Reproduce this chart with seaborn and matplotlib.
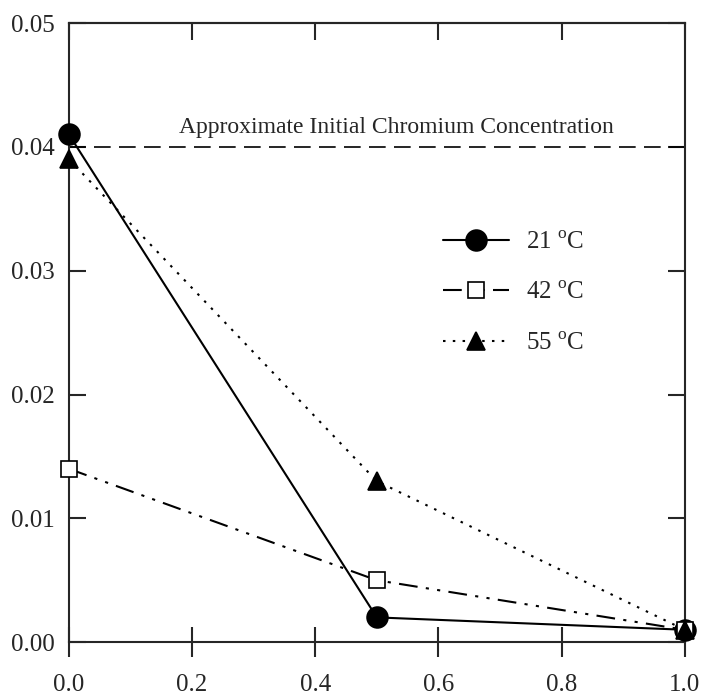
import matplotlib
matplotlib.use("Agg")
import matplotlib.pyplot as plt
import seaborn as sns
import pandas as pd

time = [0.0, 0.5, 1.0]
c21 = [0.041, 0.002, 0.001]
c42 = [0.014, 0.005, 0.001]
c55 = [0.039, 0.013, 0.001]
labels = ["21 $^{\\rm o}$C", "42 $^{\\rm o}$C", "55 $^{\\rm o}$C"]
initial_conc = 0.04
xticks = [0.0, 0.2, 0.4, 0.6, 0.8, 1.0]
yticks = [0.00, 0.01, 0.02, 0.03, 0.04, 0.05]

sns.set_style("ticks")
plt.rcParams['font.family'] = ['Liberation Serif', 'DejaVu Serif']
plt.rcParams['mathtext.fontset'] = 'custom'
plt.rcParams['mathtext.rm'] = 'Liberation Serif'

fig = plt.figure(figsize=(7.03, 6.98), dpi=100)
ax = fig.add_axes([0.098, 0.080, 0.876, 0.887])

styles = [
    dict(marker='o', linestyle='-', markersize=15, markerfacecolor='black'),
    dict(marker='s', linestyle=(0, (9, 4, 1.5, 4, 1.5, 4)), markersize=12, markerfacecolor='white'),
    dict(marker='^', linestyle=(0, (1.2, 3.5)), markersize=13, markerfacecolor='black'),
]
for vals, lab, st in zip([c21, c42, c55], labels, styles):
    df = pd.DataFrame({"x": time, "y": vals})
    sns.lineplot(data=df, x="x", y="y", ax=ax, color='black', linewidth=1.5,
                 markeredgecolor='black', markeredgewidth=1.2, label=lab,
                 clip_on=False, zorder=3, **st)

ax.axhline(initial_conc, color='black', linestyle=(0, (10, 5)), linewidth=1.2, zorder=1)
ax.text(0.531, 0.0416, "Approximate Initial Chromium Concentration",
        ha='center', va='center', fontsize=17)

ax.set_xlim(0, 1.0)
ax.set_ylim(0, 0.05)
ax.set_xticks(xticks)
ax.set_yticks(yticks)
ax.set_xticklabels([f"{v:.1f}" for v in xticks])
ax.set_yticklabels([f"{v:.2f}" for v in yticks])
ax.set_xlabel("")
ax.set_ylabel("")
ax.tick_params(axis='x', direction='inout', length=22, width=1.5, labelsize=18,
               top=False, bottom=True, pad=12)
ax.tick_params(axis='y', direction='in', length=12, width=1.5, labelsize=18,
               left=True, right=True, pad=10)
top = ax.secondary_xaxis('top')
top.set_xticks(xticks)
top.tick_params(direction='in', length=12, width=1.5, labelsize=0)
top.set_xticklabels([])
top.spines['top'].set_linewidth(1.5)
for s in ax.spines.values():
    s.set_linewidth(1.5)
    s.set_visible(True)

leg = ax.legend(loc='upper left', bbox_to_anchor=(0.607, 0.664), frameon=False,
                fontsize=18, handlelength=2.65, labelspacing=1.12, handletextpad=0.7,
                borderpad=0, borderaxespad=0)

fig.savefig("out.png", dpi=100)
